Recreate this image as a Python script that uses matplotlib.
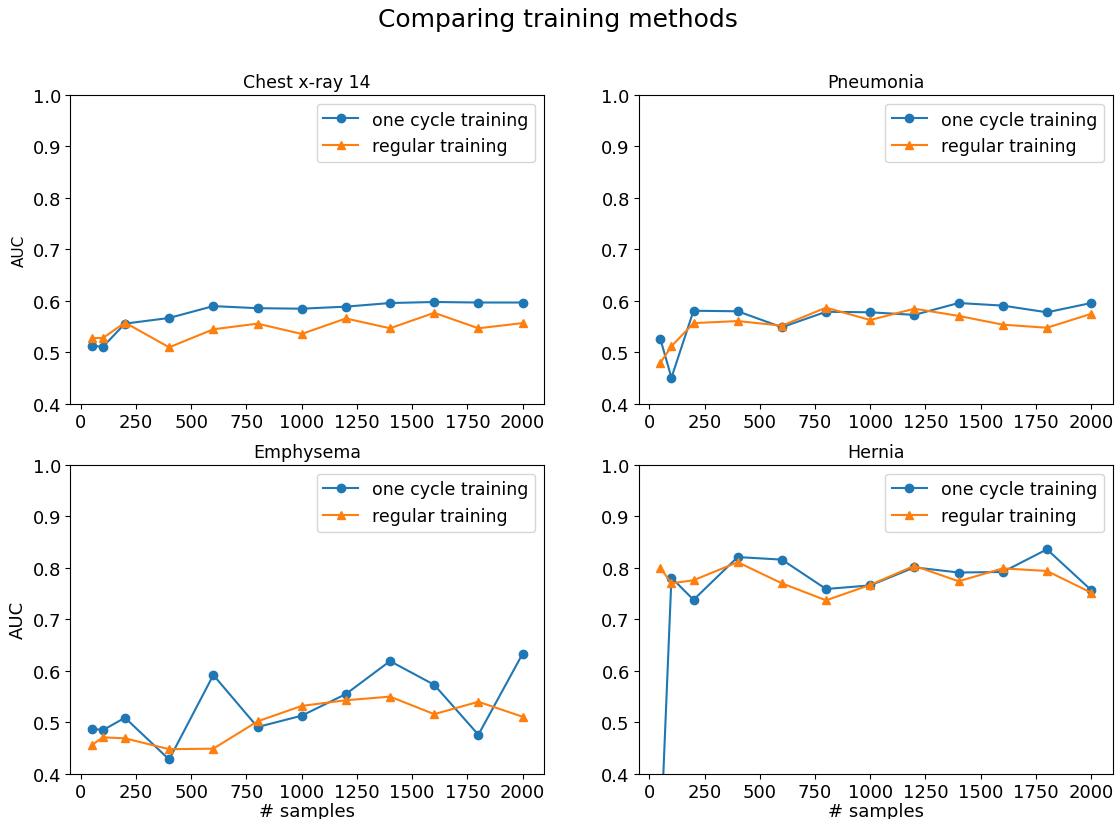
import numpy as np
import matplotlib
matplotlib.use("Agg")
import matplotlib.pyplot as plt

# number of training samples
samples = [50, 100, 200, 400, 600, 800, 1000, 1200, 1400, 1600, 1800, 2000]

# AUC values
chest_one = [0.513, 0.511, 0.556, 0.567, 0.590, 0.586, 0.585, 0.589, 0.596, 0.598, 0.597, 0.597]
chest_reg = [0.528, 0.528, 0.558, 0.510, 0.545, 0.556, 0.536, 0.566, 0.547, 0.577, 0.547, 0.557]

pneu_one = [0.526, 0.451, 0.581, 0.580, 0.549, 0.579, 0.578, 0.573, 0.596, 0.591, 0.578, 0.596]
pneu_reg = [0.480, 0.512, 0.557, 0.561, 0.552, 0.587, 0.563, 0.585, 0.571, 0.554, 0.548, 0.575]

emph_one = [0.488, 0.485, 0.509, 0.428, 0.592, 0.491, 0.513, 0.555, 0.619, 0.573, 0.476, 0.633]
emph_reg = [0.456, 0.471, 0.469, 0.448, 0.449, 0.502, 0.532, 0.543, 0.550, 0.516, 0.540, 0.511]

hern_one = [0.262, 0.781, 0.738, 0.821, 0.816, 0.759, 0.766, 0.801, 0.791, 0.792, 0.836, 0.757]
hern_reg = [0.800, 0.770, 0.776, 0.811, 0.770, 0.737, 0.767, 0.804, 0.774, 0.799, 0.794, 0.752]

titles = ["Chest x-ray 14", "Pneumonia", "Emphysema", "Hernia"]
one_cycle = [chest_one, pneu_one, emph_one, hern_one]
regular = [chest_reg, pneu_reg, emph_reg, hern_reg]
xticks = [0, 250, 500, 750, 1000, 1250, 1500, 1750, 2000]

fig, axes = plt.subplots(2, 2, figsize=(11.16, 8.2), dpi=100)
fig.subplots_adjust(left=0.063, right=0.997, top=0.883, bottom=0.055, wspace=0.2, hspace=0.197)
fig.suptitle("Comparing training methods", fontsize=18, y=0.99)

for i, ax in enumerate(axes.flat):
    ax.plot(samples, one_cycle[i], marker='o', color='#1f77b4', label='one cycle training')
    ax.plot(samples, regular[i], marker='^', color='#ff7f0e', label='regular training')
    ax.set_ylim(0.4, 1.0)
    ax.set_xticks(xticks)
    ax.set_title(titles[i], fontsize=12.5)
    ax.tick_params(labelsize=13, pad=3)
    ax.legend(loc='upper right', fontsize=12.5)

axes[0, 0].set_ylabel("AUC", fontsize=11)
axes[1, 0].set_ylabel("AUC", fontsize=13)
axes[1, 0].set_xlabel("# samples", fontsize=13, labelpad=1)
axes[1, 1].set_xlabel("# samples", fontsize=13, labelpad=1)

fig.savefig("out.png", dpi=100)
